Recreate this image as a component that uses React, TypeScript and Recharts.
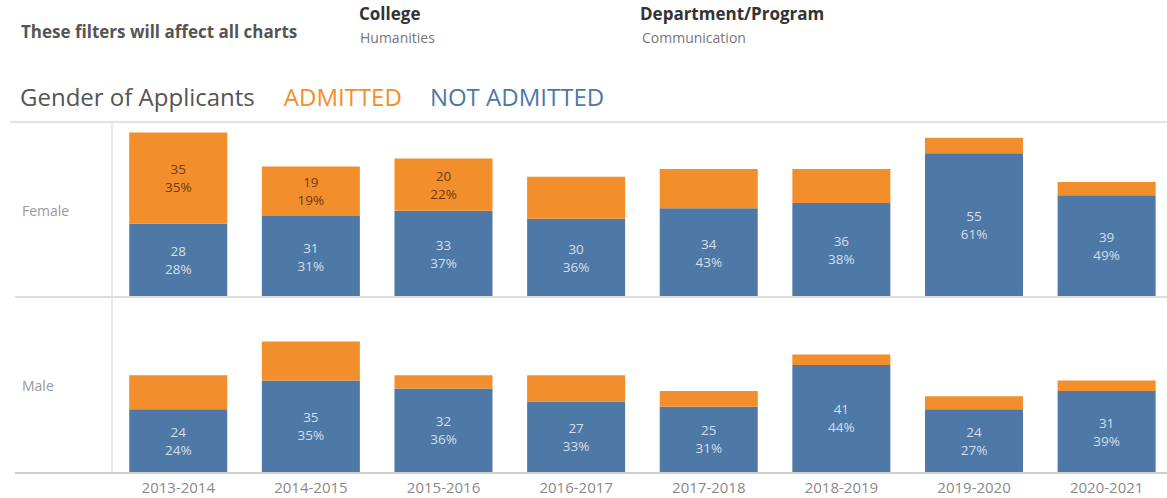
import React from "react";
import { BarChart, Bar, XAxis, YAxis, LabelList } from "recharts";

const years = ["2013-2014", "2014-2015", "2015-2016", "2016-2017", "2017-2018", "2018-2019", "2019-2020", "2020-2021"];
const femaleNotAdmitted = [28, 31, 33, 30, 34, 36, 55, 39];
const femaleAdmitted = [35, 19, 20, 16, 15, 13, 6, 5];
const femaleNotPct = [28, 31, 37, 36, 43, 38, 61, 49];
const femaleAdmPct = [35, 19, 22, null, null, null, null, null];
const maleNotAdmitted = [24, 35, 32, 27, 25, 41, 24, 31];
const maleAdmitted = [13, 15, 5, 10, 6, 4, 5, 4];
const maleNotPct = [24, 35, 36, 33, 31, 44, 27, 39];
const maleAdmPct = [null, null, null, null, null, null, null, null];

const ORANGE = "#f28e2b";
const BLUE = "#4e79a7";
const FONT = "'Open Sans', 'Noto Sans', sans-serif";

const femaleData = years.map((year, i) => ({
  year,
  notAdmitted: femaleNotAdmitted[i],
  admitted: femaleAdmitted[i],
  notPct: femaleNotPct[i],
  admPct: femaleAdmPct[i],
}));
const maleData = years.map((year, i) => ({
  year,
  notAdmitted: maleNotAdmitted[i],
  admitted: maleAdmitted[i],
  notPct: maleNotPct[i],
  admPct: maleAdmPct[i],
}));

function makeLabel(data: any[], valueKey: string, pctKey: string, color: string) {
  return (props: any) => {
    const { x, y, width, height, index } = props;
    const d = data[index];
    if (d[pctKey] == null) return null;
    const cx = x + width / 2;
    const cy = y + height / 2;
    return (
      <g>
        <text x={cx} y={cy - 9} textAnchor="middle" dominantBaseline="central" fill={color} fontSize={13.5} fontFamily={FONT}>
          {d[valueKey]}
        </text>
        <text x={cx} y={cy + 9} textAnchor="middle" dominantBaseline="central" fill={color} fontSize={13.5} fontFamily={FONT}>
          {d[pctKey]}%
        </text>
      </g>
    );
  };
}

function Panel({ data, showX }: { data: any[]; showX: boolean }) {
  return (
    <BarChart
      width={1175}
      height={showX ? 201 : 175}
      data={data}
      margin={{ top: 0, right: 2, left: 0, bottom: 0 }}
      barCategoryGap="13%"
    >
      <XAxis
        dataKey="year"
        hide={!showX}
        axisLine={false}
        tickLine={false}
        tick={{ fill: "#8a8a8a", fontSize: 15, fontFamily: FONT }}
        height={26}
        tickMargin={4}
      />
      <YAxis width={112} domain={[0, 67]} tick={false} tickLine={false} axisLine={{ stroke: "#d6d6d6" }} />
      <Bar dataKey="notAdmitted" stackId="a" fill={BLUE} isAnimationActive={false}>
        <LabelList content={makeLabel(data, "notAdmitted", "notPct", "#d3dfec")} />
      </Bar>
      <Bar dataKey="admitted" stackId="a" fill={ORANGE} isAnimationActive={false}>
        <LabelList content={makeLabel(data, "admitted", "admPct", "#6b3c12")} />
      </Bar>
    </BarChart>
  );
}

const hLine = (top: number, left: number, color: string, h = 2): React.CSSProperties => ({
  position: "absolute",
  top,
  left,
  right: 0,
  height: h,
  background: color,
});

export default function App() {
  return (
    <div
      style={{
        position: "absolute",
        left: 0,
        top: 0,
        width: 1167,
        height: 498,
        overflow: "hidden",
        background: "#fff",
        fontFamily: FONT,
      }}
    >
      <div style={{ position: "absolute", left: 21, top: 20, fontSize: 17, fontWeight: 700, color: "#555", whiteSpace: "nowrap" }}>
        These filters will affect all charts
      </div>
      <div style={{ position: "absolute", left: 359, top: 2, fontSize: 17, fontWeight: 700, color: "#333" }}>College</div>
      <div style={{ position: "absolute", left: 360, top: 28, fontSize: 14, color: "#777" }}>Humanities</div>
      <div style={{ position: "absolute", left: 640, top: 2, fontSize: 17, fontWeight: 700, color: "#333" }}>
        Department/Program
      </div>
      <div style={{ position: "absolute", left: 642, top: 28, fontSize: 14, color: "#777" }}>Communication</div>

      <div style={{ position: "absolute", left: 20, top: 80, fontSize: 24, color: "#555", whiteSpace: "nowrap" }}>
        Gender of Applicants
        <span style={{ color: ORANGE, marginLeft: 29 }}>ADMITTED</span>
        <span style={{ color: BLUE, marginLeft: 28 }}>NOT ADMITTED</span>
      </div>

      <div style={{ position: "absolute", left: 0, top: 122 }}>
        <Panel data={femaleData} showX={false} />
      </div>
      <div style={{ position: "absolute", left: 0, top: 297 }}>
        <Panel data={maleData} showX={true} />
      </div>

      <div style={hLine(121, 10, "#e3e3e3")} />
      <div style={hLine(296, 15, "#dcdcdc")} />
      <div style={hLine(472, 15, "#cfcfcf")} />

      <div style={{ position: "absolute", left: 22, top: 201, fontSize: 14, color: "#9a9a9a" }}>Female</div>
      <div style={{ position: "absolute", left: 22, top: 376, fontSize: 14, color: "#9a9a9a" }}>Male</div>
    </div>
  );
}
